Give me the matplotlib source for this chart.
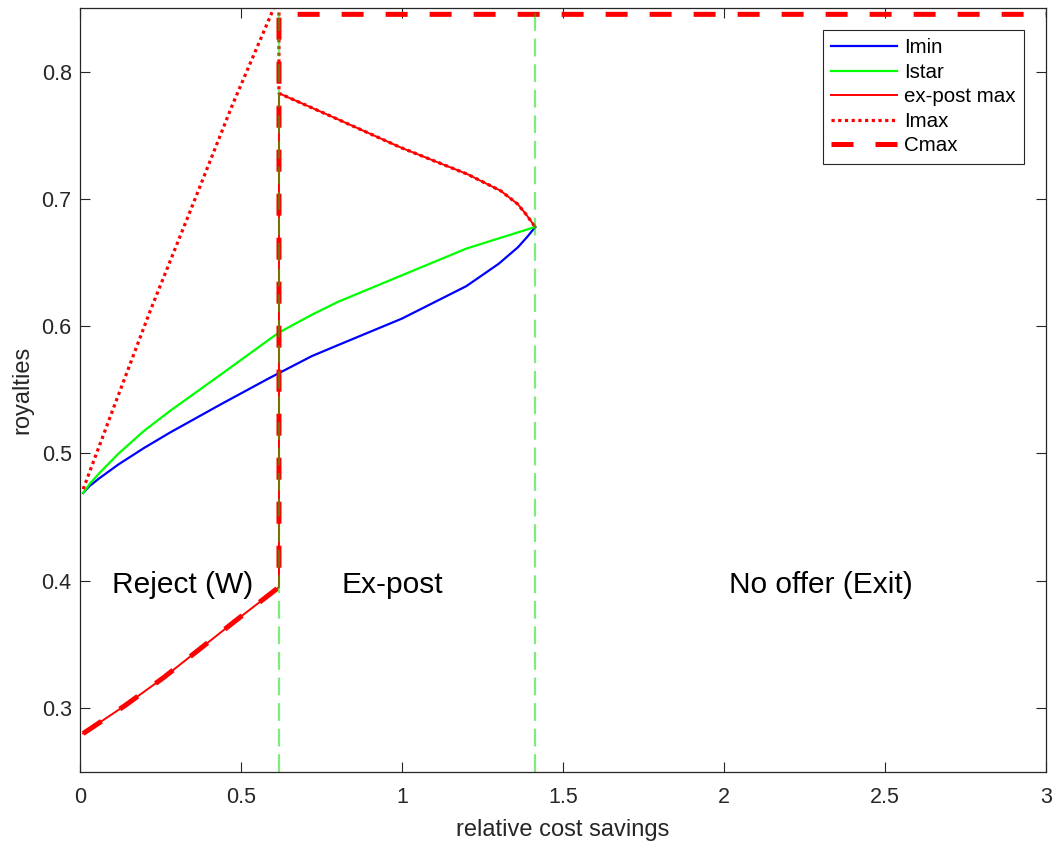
import matplotlib
matplotlib.use("Agg")
import matplotlib.pyplot as plt

plt.rcParams["font.family"] = ["Liberation Sans", "DejaVu Sans"]

# lower bound of the licence fee
imin_x = [0.01, 0.03, 0.06, 0.12, 0.2, 0.28, 0.44, 0.59, 0.72, 0.8, 1.0, 1.2, 1.3, 1.36, 1.39, 1.414]
imin_y = [0.469, 0.4745, 0.4805, 0.4915, 0.5045, 0.5165, 0.539, 0.5595, 0.5765, 0.585,
          0.606, 0.6315, 0.649, 0.662, 0.6705, 0.678]

# optimal fee
istar_x = [0.01, 0.03, 0.06, 0.12, 0.2, 0.28, 0.44, 0.59, 0.618, 0.72, 0.8, 1.0, 1.2, 1.414]
istar_y = [0.469, 0.476, 0.4845, 0.5, 0.518, 0.5335, 0.5625, 0.59, 0.595, 0.609, 0.619,
           0.64, 0.661, 0.678]

# cap below the first threshold (shared by Cmax and ex-post max)
low_x = [0.01, 0.14, 0.26, 0.37, 0.48, 0.618]
low_y = [0.28, 0.302, 0.324, 0.346, 0.368, 0.395]

# upper branch between the two thresholds
branch_x = [0.618, 0.788, 0.996, 1.2035, 1.307, 1.359, 1.385, 1.405, 1.414]
branch_y = [0.783, 0.764, 0.7404, 0.7194, 0.7063, 0.696, 0.688, 0.681, 0.678]

# Imax before the first threshold
imax_x = [0.01, 0.1, 0.218, 0.348, 0.472, 0.597, 0.618]
imax_y = [0.472, 0.533, 0.612, 0.694, 0.773, 0.847, 0.859]

cmax_top = 0.845
thresholds = [0.618, 1.414]

regions = ["Reject (W)", "Ex-post", "No offer (Exit)"]
region_x = [0.32, 0.97, 2.3]
region_y = 0.397

xticks = [0, 0.5, 1, 1.5, 2, 2.5, 3]
xtick_labels = ["0", "0.5", "1", "1.5", "2", "2.5", "3"]
yticks = [0.3, 0.4, 0.5, 0.6, 0.7, 0.8]
ytick_labels = ["0.3", "0.4", "0.5", "0.6", "0.7", "0.8"]

t = thresholds[0]
expost_x = low_x + branch_x
expost_y = low_y + branch_y
imax_all_x = imax_x + branch_x
imax_all_y = imax_y + branch_y
cmax_x = low_x + [t, 3.0]
cmax_y = low_y + [cmax_top, cmax_top]

fig = plt.figure(figsize=(10.55, 8.41), dpi=100)
ax = fig.add_axes([0.0758, 0.0824, 0.9157, 0.9081])

ax.plot(imin_x, imin_y, color=(0, 0, 1), lw=1.6, label="Imin")
ax.plot(istar_x, istar_y, color=(0, 1, 0), lw=1.6, label="Istar")
ax.plot(expost_x, expost_y, color=(1, 0, 0), lw=1.4, label="ex-post max")
ax.plot(imax_all_x, imax_all_y, color=(1, 0, 0), lw=2.3, linestyle=(0, (1, 1.1)),
        label="Imax")
ax.plot(cmax_x, cmax_y, color=(1, 0, 0), lw=3.6, linestyle=(0, (4.4, 4.4)),
        label="Cmax")

# region boundaries, drawn on top
for xb in thresholds:
    ax.axvline(xb, color=(0, 0.85, 0), alpha=0.5, lw=1.6, linestyle=(0, (8, 3.5)))

for name, xr in zip(regions, region_x):
    ax.text(xr, region_y, name, fontsize=21.5, ha="center", va="center", color="black")

ax.set_xlim(0, 3)
ax.set_ylim(0.25, 0.85)
ax.set_xticks(xticks)
ax.set_xticklabels(xtick_labels)
ax.set_yticks(yticks)
ax.set_yticklabels(ytick_labels)
ax.tick_params(direction="in", length=7, width=0.8, colors="#262626",
               labelsize=15.5, top=True, right=True)
ax.tick_params(axis="x", pad=11)
ax.tick_params(axis="y", pad=6)
for sp in ax.spines.values():
    sp.set_color("#262626")
    sp.set_linewidth(0.9)

ax.set_xlabel("relative cost savings", fontsize=17, color="#262626", labelpad=8)
ax.set_ylabel("royalties", fontsize=17, color="#262626", labelpad=6)

leg = ax.legend(loc="upper right", fontsize=14.8, fancybox=False, framealpha=1,
                edgecolor="#262626", handlelength=3.2, handletextpad=0.35,
                labelspacing=0.27, borderaxespad=1.05, borderpad=0.42)
leg.get_frame().set_linewidth(0.8)

fig.savefig("out.png", dpi=100)
